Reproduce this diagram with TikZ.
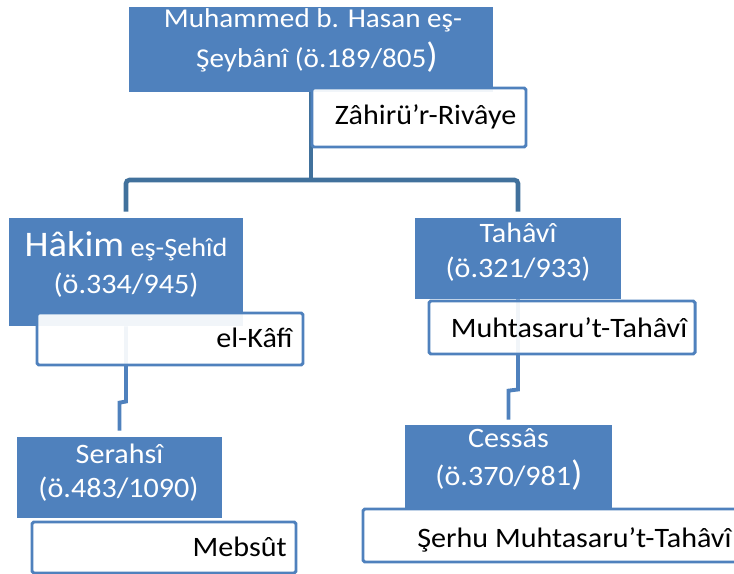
\documentclass[tikz,border=0pt]{standalone}
\usepackage{fontspec}
\setmainfont{Carlito}[FakeStretch=1.07]
\usetikzlibrary{positioning, calc, backgrounds}
\definecolor{accentblue}{HTML}{4F81BD}
\definecolor{linkblue}{HTML}{41719C}
\newcommand{\bigclose}{{\fontsize{20}{20}\selectfont )}}

\tikzset{
	boxsize/.style 2 args={minimum width=#1*0.2mm, minimum height=#2*0.2mm},
	namebox/.style={fill=accentblue, inner sep=0pt},
	workbox/.style={draw=accentblue, line width=1.7pt, fill=white, fill opacity=0.92, rounded corners=1pt, inner sep=0pt},
	nametext/.style={text=white, inner sep=0pt, anchor=base, font=\fontsize{16}{18}\selectfont},
	worktext/.style={text=black, inner sep=0pt, anchor=base, font=\fontsize{16}{18}\selectfont},
	link/.style={draw=linkblue, line width=2.6pt, rounded corners=2pt},
	sublink/.style={draw=accentblue, line width=2.2pt},
}

\begin{document}
\begin{tikzpicture}[x=0.2mm, y=-0.2mm]
	\useasboundingbox (0, 0) rectangle (734, 574);
	\clip (0, 0) rectangle (734, 574);

	\node[namebox, boxsize={364}{85}] (muh) at (311, 49.5) {};
	\node[workbox, boxsize={214}{59}] (zah) at (419, 117.5) {};

	\node[namebox, boxsize={234}{108}] (hak) at (126, 272) {};
	\node[workbox, boxsize={266}{52}] (kafi) at (170, 339) {};
	\node[namebox, boxsize={205}{81}] (ser) at (119.5, 477.5) {};
	\node[workbox, boxsize={264}{51}] (mebs) at (164, 547.5) {};

	\node[namebox, boxsize={206}{81}] (tah) at (518, 258.5) {};
	\node[workbox, boxsize={266}{53}] (muht) at (562, 327.5) {};
	\node[namebox, boxsize={207}{83}] (ces) at (508.5, 466.5) {};
	\node[workbox, boxsize={397}{53}] (serh) at (561.5, 535.5) {};

	\coordinate (fork) at (311, 180);

	\begin{scope}[on background layer]
		\draw[link] (muh.south) -- (fork);
		\draw[link] ($(hak.north) + (0, -6)$) |- (fork) -| ($(tah.north) + (0, -6)$);
		\draw[sublink] (hak.south) -- ($(hak.south |- kafi.south) + (0, 35)$) -- ($(ser.north) + (0, -34)$) -- ($(ser.north) + (0, -6)$);
		\draw[sublink] (tah.south) -- ($(tah.south |- muht.south) + (0, 34)$) -- ($(ces.north) + (0, -34)$) -- ($(ces.north) + (0, -5)$);
	\end{scope}

	\node[nametext, font=\fontsize{15.5}{18}\selectfont] (muhA) at (313, 28) {Muhammed b. Hasan eş-};
	\node[nametext, font=\fontsize{15.5}{18}\selectfont] (muhB) at (317, 68) {Şeybânî (ö.189/805\bigclose};
	\node[worktext] (zahT) at (425.5, 125) {Zâhirü’r-Rivâye};

	\node[nametext, font=\fontsize{15}{18}\selectfont] (hakA) at (126, 257) {{\fontsize{20.5}{21}\selectfont Hâkim} eş-Şehîd};
	\node[nametext] (hakB) at (126, 293) {(ö.334/945)};
	\node[worktext, anchor=base east] (kafiT) at (293, 347) {el-Kâfî};
	\node[nametext] (serA) at (119.5, 463) {Serahsî};
	\node[nametext] (serB) at (118.5, 497) {(ö.483/1090)};
	\node[worktext, anchor=base east] (mebsT) at (287, 556) {Mebsût};

	\node[nametext] (tahA) at (518, 243) {Tahâvî};
	\node[nametext] (tahB) at (518, 278) {(ö.321/933)};
	\node[worktext] (muhtT) at (569, 337) {Muhtasaru’t-Tahâvî};
	\node[nametext] (cesA) at (508.5, 447) {Cessâs};
	\node[nametext] (cesB) at (509, 485) {(ö.370/981\bigclose};
	\node[worktext, anchor=base west] (serhT) at (417, 547) {Şerhu Muhtasaru’t-Tahâvî};
\end{tikzpicture}
\end{document}
